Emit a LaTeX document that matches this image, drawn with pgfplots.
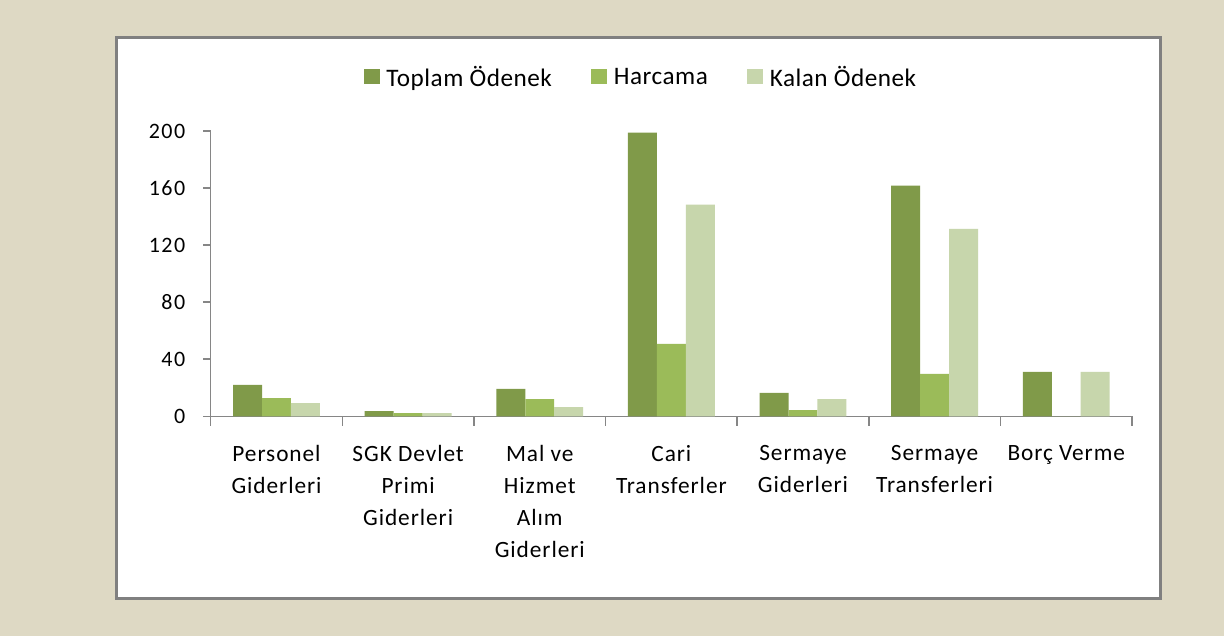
\documentclass[border=0pt]{standalone}
\usepackage{pgfplots}
\pgfplotsset{compat=1.18}
\usepackage{pgfplotstable}
\usepackage{fontspec}
\setmainfont{Carlito}
\newfontfamily\labfont{Carlito}[LetterSpace=4]
\newfontfamily\tickfont{Carlito}[LetterSpace=7]
\newfontfamily\legfont{Carlito}[LetterSpace=2]
\definecolor{bg}{RGB}{222,217,196}
\definecolor{cT}{RGB}{128,154,73}
\definecolor{cH}{RGB}{155,187,89}
\definecolor{cK}{RGB}{199,214,172}
\definecolor{axgray}{RGB}{134,134,134}
\definecolor{boxgray}{RGB}{128,128,128}

\pgfplotstableread{
x T H K
0 22 12.8 9.3
1 3.7 2.3 2.3
2 19.2 12.1 6.5
3 198.8 50.7 148.3
4 16.4 4.4 12.1
5 161.6 29.7 131.4
6 31.1 0 31.1
}\data

\begin{document}
\begin{tikzpicture}
\fill[bg] (0pt,0pt) rectangle (918pt,477pt);
\draw[fill=white, draw=boxgray, line width=1.6pt] (87.4pt,28.1pt) rectangle (870.4pt,448.9pt);
\begin{axis}[
  at={(158.03pt,164.78pt)}, anchor=south west,
  scale only axis, width=691pt, height=214pt,
  xmin=-0.5, xmax=6.5, ymin=0, ymax=200,
  axis x line*=bottom, axis y line*=left,
  axis line style={axgray, line width=1.1pt, -},
  ytick={0,40,...,200},
  xtick={0,...,6},
  minor xtick={-0.5,0.5,...,6.5},
  xticklabels={{Personel\\Giderleri},{SGK Devlet\\Primi\\Giderleri},{Mal ve\\Hizmet\\Alım\\Giderleri},{Cari\\Transferler},{Sermaye\\Giderleri},{Sermaye\\Transferleri},{Borç Verme}},
  tick align=outside,
  major tick length=5.5pt, minor tick length=7pt,
  major x tick style={draw=none},
  minor x tick style={axgray, line width=1.1pt},
  major y tick style={axgray, line width=1.1pt},
  /pgf/number format/assume math mode=true,
  yticklabel style={font=\tickfont\fontsize{16.5}{20}\selectfont, text=black, anchor=east, xshift=-10pt},
  xticklabel style={font=\labfont\fontsize{17.5}{24}\selectfont, text=black, align=center, anchor=north, yshift=-13pt},
  ybar=0pt, bar width=0.22,
  legend columns=3,
  legend style={at={(0.4673,1.189)}, anchor=center, draw=none, fill=none,
    font=\legfont\fontsize{18.9}{20}\selectfont,
    /tikz/every even column/.append style={column sep=27.5pt},
    /tikz/every odd column/.append style={column sep=3pt}},
  legend image code/.code={\fill[#1] (0pt,-5pt) rectangle (12pt,6pt);},
]
\addplot[fill=cT, draw=none, bar shift=-0.22] table[x=x, y=T] {\data};
\addplot[fill=cH, draw=none, bar shift=0] table[x=x, y=H] {\data};
\addplot[fill=cK, draw=none, bar shift=0.22] table[x=x, y=K] {\data};
\legend{Toplam Ödenek, Harcama, Kalan Ödenek}
\end{axis}
\end{tikzpicture}
\end{document}
